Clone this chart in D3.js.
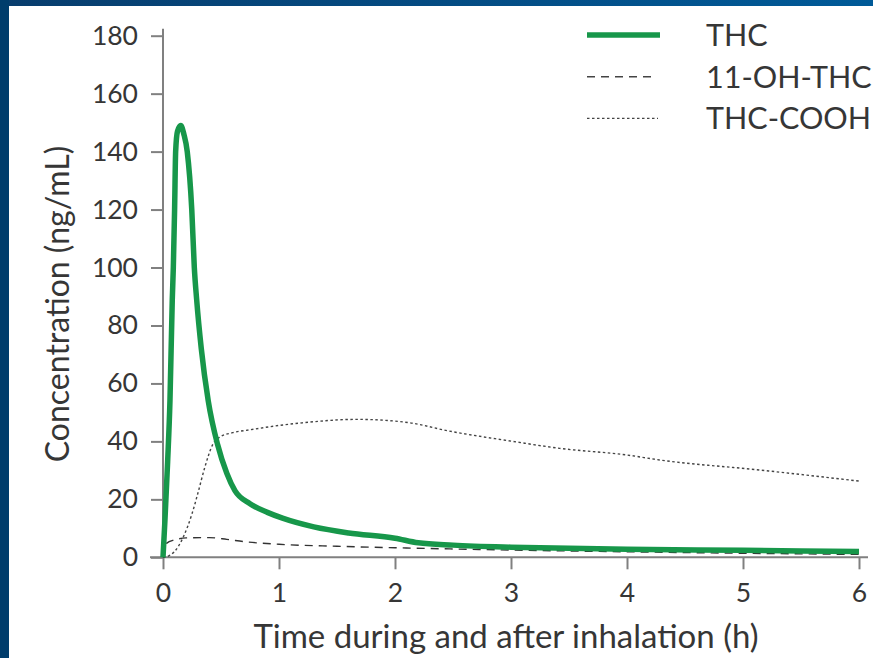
<!DOCTYPE html>
<html>
<head>
<meta charset="utf-8">
<script src="https://cdn.jsdelivr.net/npm/d3@7"></script>
<style>
  body { margin: 0; background: #fff; }
  svg { display: block; }
  text { font-family: Lato, "Open Sans", sans-serif; fill: #363636; }
</style>
</head>
<body>
<svg id="chart" width="873" height="658"></svg>
<script>
// time points (h) and concentrations (ng/mL)
const timeTHC = [0, 0.017, 0.04, 0.06, 0.08, 0.089, 0.1, 0.109, 0.125, 0.153, 0.18, 0.209, 0.248, 0.27, 0.29, 0.33, 0.39, 0.47, 0.55, 0.62, 0.75, 0.9, 1.03, 1.3, 1.6, 2.0, 2.2, 2.5, 3.0, 3.5, 4.0, 5.0, 6.0];
const thc = [0, 13, 33, 54, 89, 100, 120, 140, 147, 149, 146, 140, 120, 100, 89, 72, 54, 39, 29, 23, 18.5, 15.5, 13.5, 10.5, 8.4, 6.6, 5.0, 4.2, 3.5, 3.1, 2.8, 2.4, 2.0];

const time11OH = [0, 0.03, 0.1, 0.2, 0.4, 0.55, 0.7, 1.0, 1.5, 2.0, 3.0, 4.0, 5.0, 6.0];
const oh11 = [0, 4.8, 6.0, 6.7, 6.8, 6.2, 5.4, 4.5, 3.8, 3.3, 2.5, 1.9, 1.4, 1.0];

const timeCOOH = [0, 0.05, 0.1, 0.175, 0.25, 0.3, 0.36, 0.43, 0.49, 0.6, 0.75, 1.0, 1.2, 1.67, 2.0, 2.13, 2.45, 3.0, 3.42, 4.0, 4.28, 5.15, 6.0];
const cooh = [0, 0.5, 2, 7, 15, 22, 31, 39, 41.5, 43, 44, 45.5, 46.4, 47.6, 47, 46.4, 43.7, 40.1, 37.6, 35.3, 33.6, 30.1, 26.3];

const xTicks = [0, 1, 2, 3, 4, 5, 6];
const yTicks = [0, 20, 40, 60, 80, 100, 120, 140, 160, 180];
const seriesNames = ['THC', '11-OH-THC', 'THC-COOH'];

const svg = d3.select('#chart');

// blue frame on the left and top
const grad = svg.append('defs').append('linearGradient').attr('id', 'topband');
grad.append('stop').attr('offset', '0%').attr('stop-color', '#083d6d');
grad.append('stop').attr('offset', '100%').attr('stop-color', '#005a98');
svg.append('rect').attr('x', 0).attr('y', 0).attr('width', 873).attr('height', 6).attr('fill', 'url(#topband)');
svg.append('rect').attr('x', 0).attr('y', 0).attr('width', 9).attr('height', 658).attr('fill', '#003d6c');

const x = d3.scaleLinear().domain([0, 6]).range([163, 859]);
const y = d3.scaleLinear().domain([0, 180]).range([557.3, 35.7]);

const axisColor = '#808080';

// y axis
const gy = svg.append('g')
  .attr('transform', 'translate(' + x(0) + ',0)')
  .call(d3.axisLeft(y).tickValues(yTicks).tickSize(12).tickSizeOuter(0).tickPadding(13).tickFormat(d3.format('d')));
gy.select('.domain').attr('d', 'M0,' + (y(180) - 7) + 'V' + y(0));

// x axis
const gx = svg.append('g')
  .attr('transform', 'translate(0,' + y(0) + ')')
  .call(d3.axisBottom(x).tickValues(xTicks).tickSize(12).tickSizeOuter(0).tickPadding(14).tickFormat(d3.format('d')));
gx.select('.domain').attr('d', 'M' + (x(0) - 13) + ',0H' + (x(6) + 9));

svg.selectAll('.domain, .tick line').attr('stroke', axisColor).attr('stroke-width', 2);
svg.selectAll('.tick text').style('font-size', '26.5px').style('font-family', 'Lato, sans-serif').attr('fill', '#363636');

// axis titles
svg.append('text')
  .attr('x', 506).attr('y', 648)
  .attr('text-anchor', 'middle')
  .style('font-size', '33px')
  .text('Time during and after inhalation (h)');

svg.append('text')
  .attr('transform', 'translate(69,304) rotate(-90)')
  .attr('text-anchor', 'middle')
  .style('font-size', '32px')
  .text('Concentration (ng/mL)');

const line = d3.line()
  .x(function (d) { return x(d[0]); })
  .y(function (d) { return y(d[1]); })
  .curve(d3.curveMonotoneX);

// THC-COOH dotted
svg.append('path')
  .datum(d3.zip(timeCOOH, cooh))
  .attr('d', line)
  .attr('fill', 'none')
  .attr('stroke', '#444')
  .attr('stroke-width', 1.4)
  .attr('stroke-dasharray', '2.5,2.5');

// 11-OH-THC dashed
svg.append('path')
  .datum(d3.zip(time11OH, oh11))
  .attr('d', line)
  .attr('fill', 'none')
  .attr('stroke', '#333')
  .attr('stroke-width', 1.4)
  .attr('stroke-dasharray', '8,6');

// THC thick green
svg.append('path')
  .datum(d3.zip(timeTHC, thc))
  .attr('d', line)
  .attr('fill', 'none')
  .attr('stroke', '#17974a')
  .attr('stroke-width', 5.5)
  .attr('stroke-linejoin', 'round');

// legend
const legendStyles = [
  { stroke: '#17974a', width: 5.5, dash: null, x2: 660 },
  { stroke: '#444', width: 1.4, dash: '8,6', x2: 652 },
  { stroke: '#444', width: 1.4, dash: '2.5,2.5', x2: 658 }
];
const legend = svg.selectAll('.legend')
  .data(seriesNames)
  .enter().append('g')
  .attr('class', 'legend')
  .attr('transform', function (d, i) { return 'translate(0,' + (35 + i * 41.7) + ')'; });

legend.append('line')
  .attr('x1', 587)
  .attr('x2', function (d, i) { return legendStyles[i].x2; })
  .attr('stroke', function (d, i) { return legendStyles[i].stroke; })
  .attr('stroke-width', function (d, i) { return legendStyles[i].width; })
  .attr('stroke-dasharray', function (d, i) { return legendStyles[i].dash; });

legend.append('text')
  .attr('x', 706)
  .attr('dy', '0.36em')
  .style('font-size', '30.5px')
  .text(function (d) { return d; });
</script>
</body>
</html>
